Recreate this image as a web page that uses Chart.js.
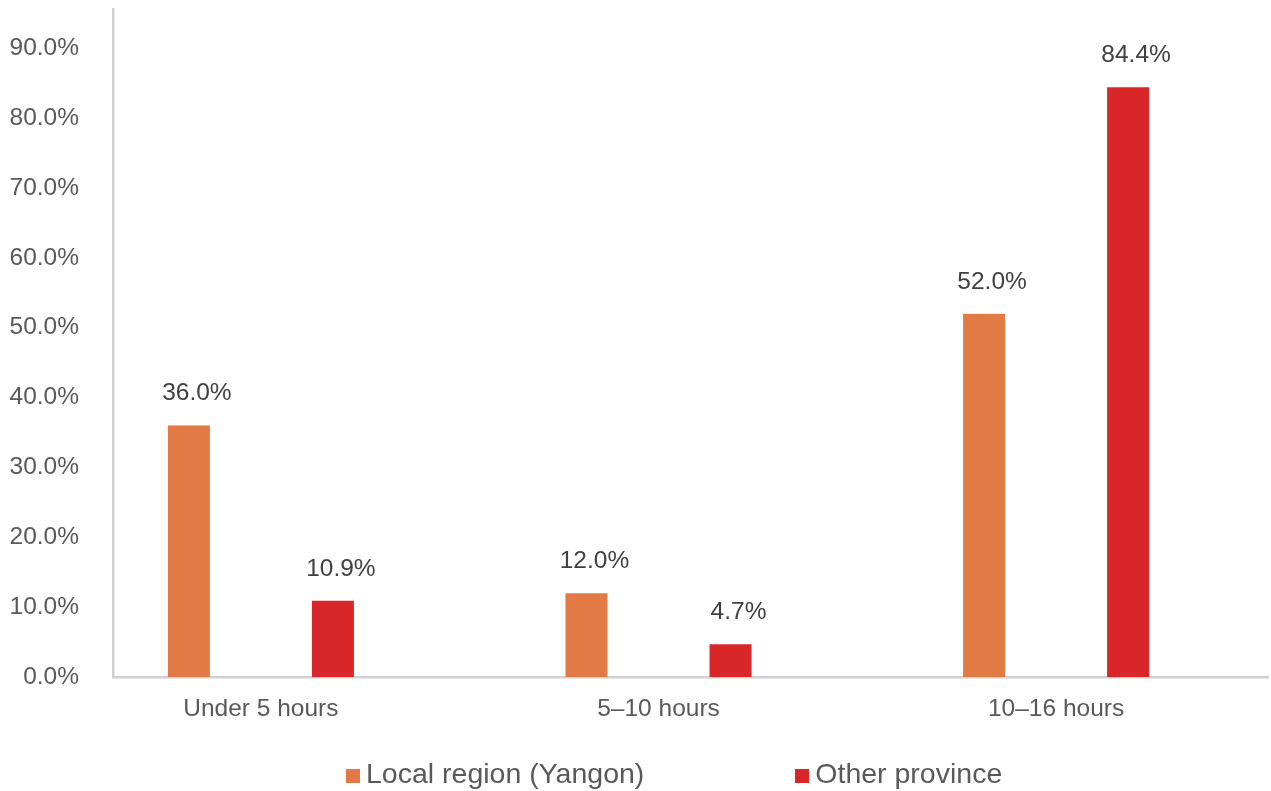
<!DOCTYPE html>
<html>
<head>
<meta charset="utf-8">
<title>Working hours by origin</title>
<script src="https://cdn.jsdelivr.net/npm/chart.js@4.4.1/dist/chart.umd.min.js"></script>
<style>
  html, body { margin: 0; padding: 0; background: #fff; }
  #wrap { position: relative; width: 1271px; height: 791px; }
  #chart { display: block; }
  #legend {
    position: absolute; left: 346px; top: 757px;
    display: flex; white-space: nowrap;
    font: 28.5px "Liberation Sans", Arial, sans-serif; line-height: 32px; color: #595959;
  }
  #legend .item { margin-right: 151px; }
  #legend .box { display: inline-block; width: 14px; height: 14px; margin-right: 6px; vertical-align: baseline; }
</style>
</head>
<body>
<div id="wrap">
  <canvas id="chart" width="1271" height="791"></canvas>
  <div id="legend"></div>
</div>
<script>
/* ================= DATA ================= */
const categories = ["Under 5 hours", "5–10 hours", "10–16 hours"];
const seriesNames = ["Local region (Yangon)", "Other province"];
const localValues = [36.0, 12.0, 52.0];
const otherValues = [10.9, 4.7, 84.4];
const yTickValues = [0, 10, 20, 30, 40, 50, 60, 70, 80, 90];
const seriesColors = ["#E27A45", "#D92628"];

const FONT = '"Liberation Sans", Arial, sans-serif';

function toPoints(values){
    return values.map((v, i) => ({ x: i, y: v }));
}

/* ================= DATA LABELS ================= */
const barLabels = {
    id: "barLabels",
    afterDatasetsDraw(chart){
        const ctx = chart.ctx;
        ctx.save();
        ctx.font = "24.5px " + FONT;
        ctx.fillStyle = "#404040";
        ctx.textAlign = "center";
        ctx.textBaseline = "alphabetic";
        chart.data.datasets.forEach((ds, i) => {
            chart.getDatasetMeta(i).data.forEach((bar, j) => {
                ctx.fillText(ds.data[j].y.toFixed(1) + "%", bar.x + 8, bar.y - 25);
            });
        });
        ctx.restore();
    }
};

/* ================= CHART ================= */
const chart = new Chart(document.getElementById("chart"), {
    type: "bar",
    data: {
        datasets: [
            { label: seriesNames[0], data: toPoints(localValues), backgroundColor: seriesColors[0] },
            { label: seriesNames[1], data: toPoints(otherValues), backgroundColor: seriesColors[1] }
        ]
    },
    options: {
        responsive: false,
        animation: false,
        layout: { padding: { top: 9, right: 3, left: 0, bottom: 0 } },
        datasets: { bar: { categoryPercentage: 0.7245, barPercentage: 0.2917 } },
        plugins: {
            legend: { display: false },
            tooltip: { enabled: false }
        },
        scales: {
            x: {
                type: "linear",
                min: -0.372,
                max: 2.533,
                offset: false,
                grid: { display: false, drawTicks: false },
                border: { color: "#D0D0D0", width: 2.5 },
                afterBuildTicks: s => { s.ticks = categories.map((c, i) => ({ value: i })); },
                afterFit: s => { s.height = 114; s.paddingLeft = 0; s.paddingRight = 0; },
                ticks: {
                    autoSkip: false,
                    maxRotation: 0,
                    padding: 18,
                    color: "#595959",
                    font: { family: FONT, size: 24.5 },
                    callback: v => categories[v]
                }
            },
            y: {
                min: 0,
                max: 95.6,
                grid: { display: false, drawTicks: false },
                border: { color: "#D0D0D0", width: 2.5 },
                afterBuildTicks: s => { s.ticks = yTickValues.map(v => ({ value: v })); },
                // tick padding would otherwise push the plot down
                afterFit: s => { s.width = 113; s.paddingTop = 0; s.paddingBottom = 0; },
                ticks: {
                    padding: 34,
                    color: "#595959",
                    font: { family: FONT, size: 24.5 },
                    callback: v => v.toFixed(1) + "%"
                }
            }
        }
    },
    plugins: [barLabels]
});

/* ================= LEGEND ================= */
document.getElementById("legend").innerHTML = chart.data.datasets.map(ds =>
    `<span class="item"><span class="box" style="background:${ds.backgroundColor}"></span>${ds.label}</span>`
).join("");
</script>
</body>
</html>
